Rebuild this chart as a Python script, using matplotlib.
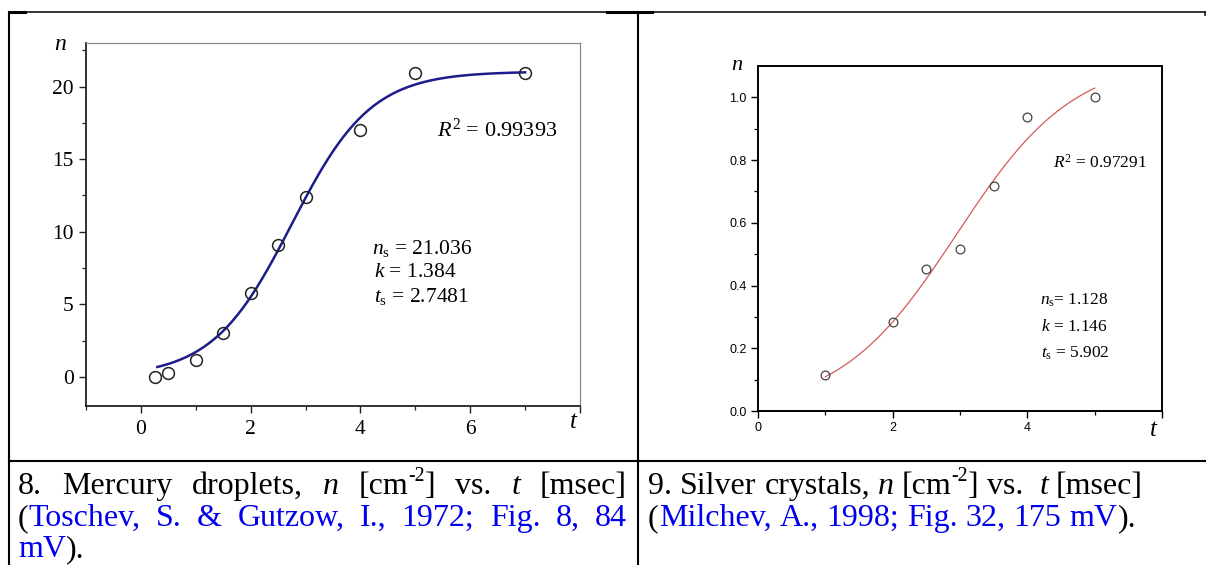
import numpy as np
import matplotlib
matplotlib.use("Agg")
import matplotlib.pyplot as plt
from matplotlib.ticker import FixedLocator

plt.rcParams['font.family'] = ['Liberation Serif', 'DejaVu Serif']
plt.rcParams['mathtext.fontset'] = 'custom'
plt.rcParams['mathtext.rm'] = 'Liberation Serif'
plt.rcParams['mathtext.it'] = 'Liberation Serif:italic'

# DATA
# fig 8, mercury droplets
hg_t = [0.25, 0.5, 1.0, 1.5, 2.0, 2.5, 3.0, 4.0, 5.0, 7.0]
hg_n = [0.0, 0.3, 1.2, 3.0, 5.8, 9.1, 12.4, 17.0, 20.9, 20.9]
hg_ns, hg_k, hg_ts = 21.036, 1.384, 2.7481
hg_r2 = 0.99393
hg_range = [0.3, 7.0]

# fig 9, silver crystals
ag_t = [1.0, 2.0, 2.5, 3.0, 3.5, 4.0, 5.0]
ag_n = [0.115, 0.283, 0.452, 0.515, 0.716, 0.937, 1.0]
ag_ns, ag_k, ag_ts = 1.128, 1.146, 5.902
ag_r2 = 0.97291
ag_range = [1.0, 5.0]

hg_yticks = [0, 5, 10, 15, 20]
hg_xticks = [0, 2, 4, 6, 8]
hg_xlabels = ['0', '2', '4', '6', '']
ag_yticks = [0.0, 0.2, 0.4, 0.6, 0.8, 1.0]
ag_ylabels = ['0.0', '0.2', '0.4', '0.6', '0.8', '1.0']
ag_xticks = [0, 2, 4, 6]
ag_xlabels = ['0', '2', '4', '']

K = 'black'
B = '#0000ee'


def logistic(t, ns, k, tm):
    # fitted curve n(t) = ns / (1 + exp(-k (t - tm)))
    t = np.asarray(t)
    return ns / (1.0 + np.exp(-k * (t - tm)))


fig = plt.figure(figsize=(12.06, 5.65), dpi=100)
fig.patch.set_facecolor('white')

# pixel overlay for the table lines and captions
bg = fig.add_axes([0, 0, 1, 1], zorder=0)
bg.set_xlim(0, 1206)
bg.set_ylim(565, 0)
bg.axis('off')

lw = 1.5
bg.plot([9, 1205], [12, 12], color=K, lw=1.1)
bg.plot([9, 25], [12, 12], color=K, lw=2.2)
bg.plot([607, 652], [12, 12], color=K, lw=2.2)
bg.plot([1205, 1205], [12, 15], color=K, lw=1.1)
bg.plot([9, 9], [12, 565], color=K, lw=lw)
bg.plot([638, 638], [12, 565], color=K, lw=lw)
bg.plot([9, 1206], [461, 461], color=K, lw=lw)

# ---------------- left chart ----------------
ax1 = fig.add_axes([86 / 1206, 1 - 406 / 565, 494 / 1206, 363 / 565], zorder=2)
ax1.set_xlim(-1, 8)
ax1.set_ylim(-2, 23)
tt = np.linspace(hg_range[0], hg_range[1], 300)
ax1.plot(tt, logistic(tt, hg_ns, hg_k, hg_ts), color='#1c1c8c', lw=1.8, zorder=2)
ax1.plot(hg_t, hg_n, 'o', ms=8.5, mfc='none', mec='#222222', mew=1.1, zorder=3)
for s in ['top', 'right']:
    ax1.spines[s].set_color('#8a8a8a')
    ax1.spines[s].set_linewidth(0.9)
for s in ['left', 'bottom']:
    ax1.spines[s].set_color('#222222')
    ax1.spines[s].set_linewidth(1.3)
ax1.xaxis.set_major_locator(FixedLocator(hg_xticks))
ax1.set_xticklabels(hg_xlabels)
ax1.xaxis.set_minor_locator(FixedLocator([-1, 1, 3, 5, 7]))
ax1.yaxis.set_major_locator(FixedLocator(hg_yticks))
ax1.set_yticklabels([str(v) for v in hg_yticks])
ax1.yaxis.set_minor_locator(FixedLocator([2.5, 7.5, 12.5, 17.5, 22.5]))
ax1.tick_params(which='major', length=5, width=1.0, labelsize=15.5, pad=5, color='#222222')
ax1.tick_params(which='minor', length=3, width=0.9, color='#222222')
ax1.tick_params(axis='y', pad=4)
ax1.text(0.71, 0.76, r'$R^2$ = %.5f' % hg_r2, transform=ax1.transAxes,
         fontsize=16, va='center', ha='left')
ax1.text(0.578, 0.435, r'$n_{\mathrm{s}}$ = %.3f' % hg_ns, transform=ax1.transAxes,
         fontsize=15.5, va='center', ha='left')
ax1.text(0.582, 0.369, r'$k$ = %.3f' % hg_k, transform=ax1.transAxes,
         fontsize=15.5, va='center', ha='left')
ax1.text(0.582, 0.303, r'$t_{\mathrm{s}}$ = %.4f' % hg_ts, transform=ax1.transAxes,
         fontsize=15.5, va='center', ha='left')
bg.text(60, 44, 'n', style='italic', fontsize=17, ha='center', va='center')
bg.text(573, 422, 't', style='italic', fontsize=18, ha='center', va='center')

# ---------------- right chart ----------------
ax2 = fig.add_axes([758 / 1206, 1 - 411 / 565, 404 / 1206, 345 / 565], zorder=2)
ax2.set_xlim(0, 6)
ax2.set_ylim(0, 1.1)
tt = np.linspace(ag_range[0], ag_range[1], 300)
# the silver fit is centred at t_s / 2
ax2.plot(tt, logistic(tt, ag_ns, ag_k, ag_ts / 2), color='#d45a5a', lw=0.9, zorder=2)
ax2.plot(ag_t, ag_n, 'o', ms=6.3, mfc='none', mec='#444444', mew=0.9, zorder=3)
for s in ax2.spines.values():
    s.set_color('black')
    s.set_linewidth(1.4)
ax2.xaxis.set_major_locator(FixedLocator(ag_xticks))
ax2.set_xticklabels(ag_xlabels, family='Liberation Sans')
ax2.xaxis.set_minor_locator(FixedLocator([1, 3, 5]))
ax2.yaxis.set_major_locator(FixedLocator(ag_yticks))
ax2.set_yticklabels(ag_ylabels, family='Liberation Sans')
ax2.yaxis.set_minor_locator(FixedLocator([0.1, 0.3, 0.5, 0.7, 0.9]))
ax2.tick_params(which='major', length=5, width=1.0, labelsize=9, pad=3)
ax2.tick_params(which='minor', length=3, width=0.9)
ax2.text(0.73, 0.719, r'$R^2$ = %.5f' % ag_r2, transform=ax2.transAxes,
         fontsize=12.5, va='center', ha='left')
ax2.text(0.698, 0.322, r'$n_{\mathrm{s}}$= %.3f' % ag_ns, transform=ax2.transAxes,
         fontsize=12.5, va='center', ha='left')
ax2.text(0.700, 0.243, r'$k$ = %.3f' % ag_k, transform=ax2.transAxes,
         fontsize=12.5, va='center', ha='left')
ax2.text(0.700, 0.168, r'$t_{\mathrm{s}}$ = %.3f' % ag_ts, transform=ax2.transAxes,
         fontsize=12.5, va='center', ha='left')
bg.text(737, 66, 'n', style='italic', fontsize=16, ha='center', va='center')
bg.text(1153, 430, 't', style='italic', fontsize=18, ha='center', va='center')

# ---------------- captions ----------------
cap_left = [
    [[("8.", K, '')], [("Mercury", K, '')], [("droplets,", K, '')], [("n", K, 'i')],
     [("[cm", K, ''), ("-2", K, 'sup'), ("]", K, '')], [("vs.", K, '')], [("t", K, 'i')],
     [("[msec]", K, '')]],
    [[("(", K, ''), ("Toschev,", B, '')], [("S.", B, '')], [("&", B, '')], [("Gutzow,", B, '')],
     [("I.,", B, '')], [("1972;", B, '')], [("Fig.", B, '')], [("8,", B, '')], [("84", B, '')]],
    [[("mV", B, ''), (").", K, '')]],
]
cap_right = [
    [[("9.", K, '')], [("Silver", K, '')], [("crystals,", K, '')], [("n", K, 'i')],
     [("[cm", K, ''), ("-2", K, 'sup'), ("]", K, '')], [("vs.", K, '')], [("", K, '')], [("t", K, 'i')],
     [("[msec]", K, '')]],
    [[("(", K, ''), ("Milchev,", B, '')], [("A.,", B, '')], [("1998;", B, '')], [("Fig.", B, '')],
     [("32,", B, '')], [("175", B, '')], [("mV", B, ''), (").", K, '')]],
]

CAP_SIZE = 23
renderer = fig.canvas.get_renderer()


def width_of(t):
    return t.get_window_extent(renderer).width


def space_width(size):
    a = bg.text(0, 0, "a a", fontsize=size)
    b = bg.text(0, 0, "aa", fontsize=size)
    w = width_of(a) - width_of(b)
    a.remove()
    b.remove()
    return w


def draw_line(words, x0, y, size, x1=None):
    px = size * 100 / 72.0
    placed = []
    for word in words:
        runs = []
        for txt, col, sty in word:
            fs = size * 0.62 if sty == 'sup' else size
            dy = -0.40 * px if sty == 'sup' else 0
            t = bg.text(0, y + dy, txt, fontsize=fs, color=col,
                        style='italic' if sty == 'i' else 'normal',
                        va='baseline', ha='left')
            runs.append((t, width_of(t) if txt else 0.0, y + dy))
        placed.append(runs)
    wsum = [sum(r[1] for r in runs) for runs in placed]
    gap = space_width(size)
    if x1 is not None and len(placed) > 1:
        gap = (x1 - x0 - sum(wsum)) / (len(placed) - 1)
    x = x0
    for runs, w in zip(placed, wsum):
        xx = x
        for t, rw, yy in runs:
            t.set_position((xx, yy))
            xx += rw
        x += w + gap


draw_line(cap_left[0], 18, 494, CAP_SIZE, 627)
draw_line(cap_left[1], 18, 526, CAP_SIZE, 627)
draw_line(cap_left[2], 18, 557, CAP_SIZE)
draw_line(cap_right[0], 648, 494, CAP_SIZE)
draw_line(cap_right[1], 648, 526, CAP_SIZE)

fig.savefig('out.png', dpi=100)
